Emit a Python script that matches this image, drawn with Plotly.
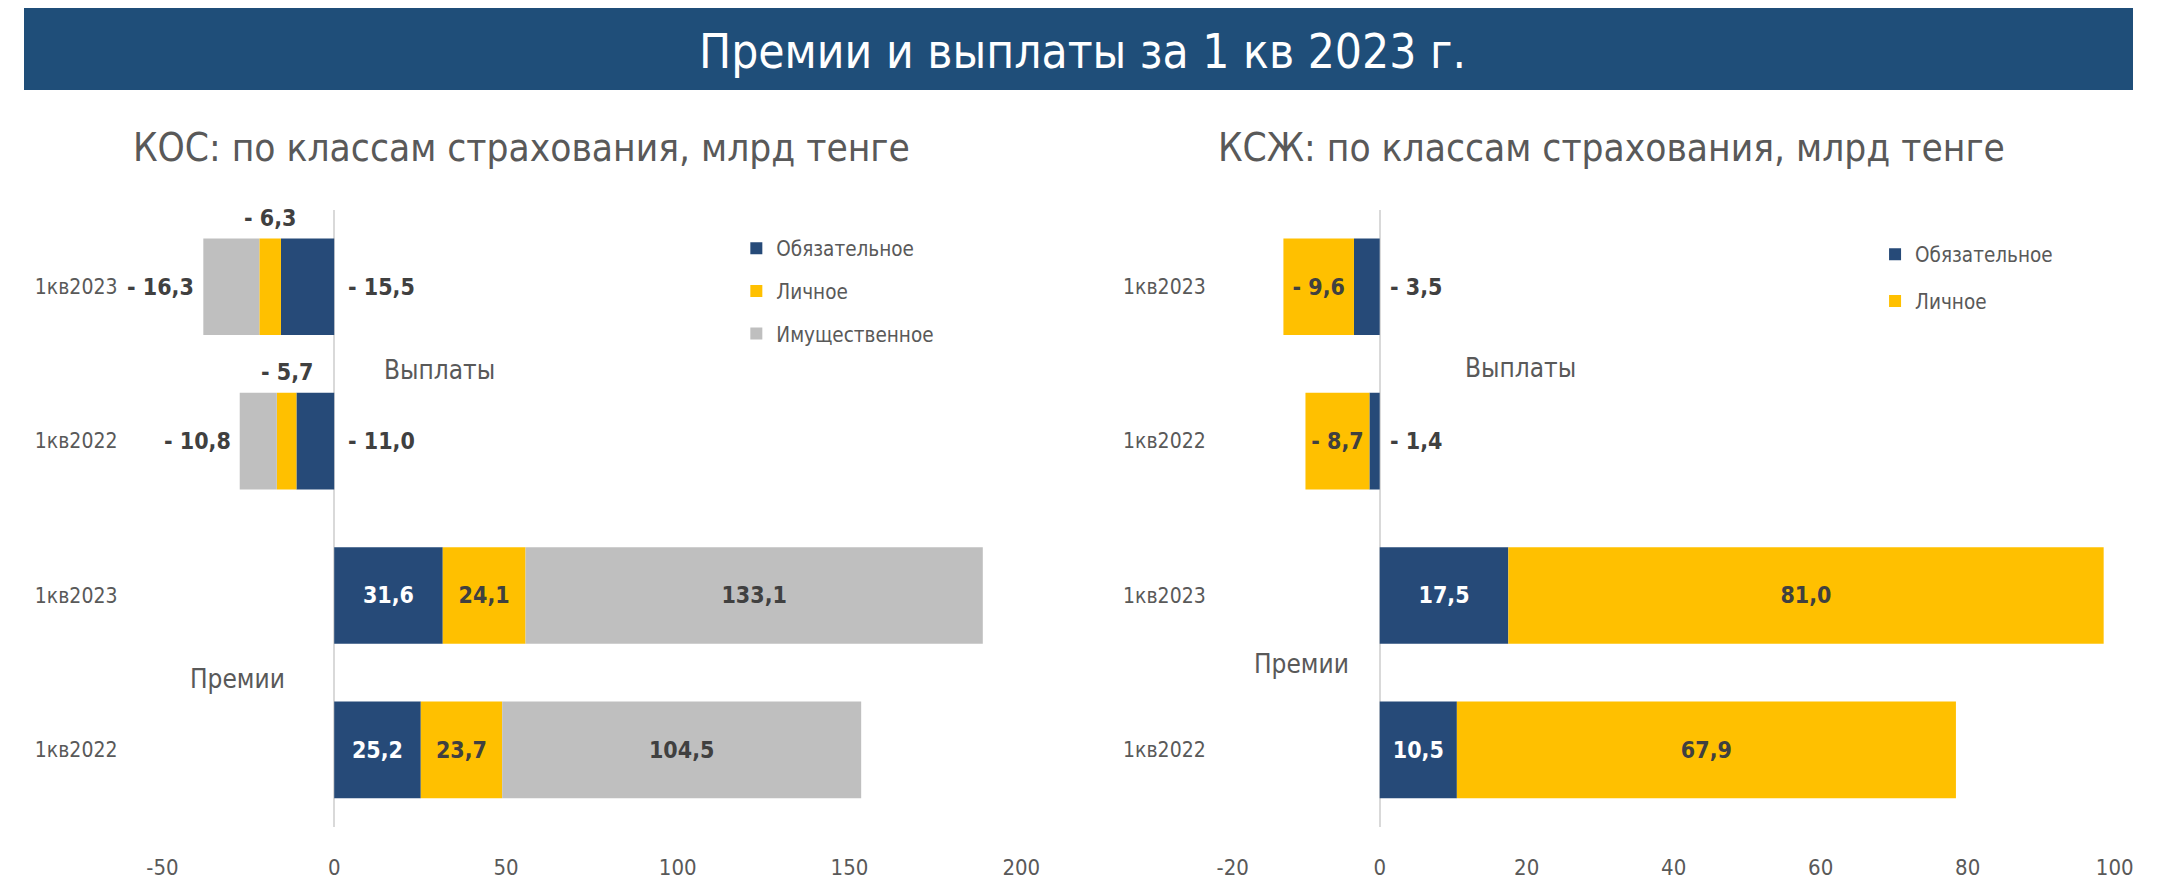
import plotly.graph_objects as go

# rows from top to bottom: payouts then premiums
rows = ['Выплаты 1кв2023', 'Выплаты 1кв2022', 'Премии 1кв2023', 'Премии 1кв2022']
periods = ['1кв2023', '1кв2022', '1кв2023', '1кв2022']

# КОС, млрд тенге
kos_mandatory = [-15.5, -11.0, 31.6, 25.2]
kos_personal = [-6.3, -5.7, 24.1, 23.7]
kos_property = [-16.3, -10.8, 133.1, 104.5]

# КСЖ, млрд тенге
ksj_mandatory = [-3.5, -1.4, 17.5, 10.5]
ksj_personal = [-9.6, -8.7, 81.0, 67.9]

kos_ticks = [-50, 0, 50, 100, 150, 200]
ksj_ticks = [-20, 0, 20, 40, 60, 80, 100]

FONT = ("Noto Sans Condensed, Noto Sans ExtraCondensed, DejaVu Sans Condensed, "
        "Liberation Sans Narrow, Roboto Condensed, Roboto, sans-serif")
BLUE = '#264a78'
YELLOW = '#ffc000'
GRAY = '#bfbfbf'
TEXT = '#595959'
DARK = '#404040'

W, H = 2144, 872


# positions below are measured on the final screenshot, these map them to paper coords
def px(X):
    return (X - 27.5) / 0.977 / W


def py(Y):
    return 1 - (Y - 6.6) / 0.9926 / H


def fmt(v):
    s = f"{abs(v):.1f}".replace('.', ',')
    return '- ' + s if v < 0 else s


def bar(name, vals, color, txtcolor, xa, ya, legend, inside_neg=False):
    txt = [fmt(v) if (v > 0 or inside_neg) else '' for v in vals]
    return go.Bar(
        name=name, y=rows, x=vals, orientation='h',
        marker=dict(color=color, line=dict(width=0)),
        text=txt, textposition='inside', insidetextanchor='middle',
        textangle=0, constraintext='none',
        textfont=dict(family=FONT, size=23, color=txtcolor, weight='bold'),
        xaxis=xa, yaxis=ya, legend=legend, legendgroup=legend + name,
        hoverinfo='skip',
    )


fig = go.Figure()
fig.add_trace(bar('Обязательное', kos_mandatory, BLUE, 'white', 'x', 'y', 'legend'))
fig.add_trace(bar('Личное', kos_personal, YELLOW, DARK, 'x', 'y', 'legend'))
fig.add_trace(bar('Имущественное', kos_property, GRAY, DARK, 'x', 'y', 'legend'))
fig.add_trace(bar('Обязательное', ksj_mandatory, BLUE, 'white', 'x2', 'y2', 'legend2'))
fig.add_trace(bar('Личное', ksj_personal, YELLOW, DARK, 'x2', 'y2', 'legend2', inside_neg=True))

ann = []
lab = dict(family=FONT, size=23, color=DARK, weight='bold')
# outside labels for payouts
for i, r in enumerate(rows):
    m, p, q = kos_mandatory[i], kos_personal[i], kos_property[i]
    if m < 0:
        ann.append(dict(xref='x', yref='y', x=0, y=r, text=fmt(m), xanchor='left', yanchor='middle',
                        xshift=12, showarrow=False, font=lab))
        ann.append(dict(xref='x', yref='y', x=m + p / 2, y=r, text=fmt(p), xanchor='center',
                        yanchor='middle', yshift=69, showarrow=False, font=lab))
        ann.append(dict(xref='x', yref='y', x=m + p + q, y=r, text=fmt(q), xanchor='right',
                        yanchor='middle', xshift=-7, showarrow=False, font=lab))
    m2 = ksj_mandatory[i]
    if m2 < 0:
        ann.append(dict(xref='x2', yref='y2', x=0, y=r, text=fmt(m2), xanchor='left', yanchor='middle',
                        xshift=8, showarrow=False, font=lab))


def note(X, Y, text, size, color=TEXT):
    return dict(xref='paper', yref='paper', x=px(X), y=py(Y), text=text, xanchor='center',
                yanchor='middle', showarrow=False, font=dict(family=FONT, size=size, color=color))


ann += [
    note(440, 370, 'Выплаты', 26),
    note(240, 680, 'Премии', 26),
    note(1514, 368, 'Выплаты', 26),
    note(1296, 665, 'Премии', 26),
    note(1079, 50, 'Премии и выплаты за 1 кв 2023 г.', 47.5, 'white'),
    note(522, 147, 'КОС: по классам страхования, млрд тенге', 38.5),
    note(1604, 147, 'КСЖ: по классам страхования, млрд тенге', 38.5),
]

xcommon = dict(showgrid=False, zeroline=True, zerolinecolor='#d9d9d9', zerolinewidth=2,
               showline=False, ticks='', tickfont=dict(family=FONT, size=22, color=TEXT),
               ticklabelstandoff=25, fixedrange=True)
ycommon = dict(type='category', categoryarray=rows, autorange='reversed', tickvals=rows, ticktext=periods,
               showgrid=False, showline=False, ticks='', zeroline=False,
               tickfont=dict(family=FONT, size=21, color=TEXT))
ydom = [py(829), py(209)]

legend_style = dict(font=dict(family=FONT, size=20.5, color=TEXT), bgcolor='rgba(0,0,0,0)',
                    xanchor='left', yanchor='top', traceorder='grouped')

fig.update_layout(
    width=W, height=H,
    margin=dict(l=0, r=0, t=0, b=0),
    paper_bgcolor='white', plot_bgcolor='white',
    barmode='relative', bargap=0.374,
    font=dict(family=FONT, color=TEXT),
    xaxis=dict(domain=[px(165), px(1018)], range=[-50, 200], tickvals=kos_ticks,
               ticktext=[str(t) for t in kos_ticks], anchor='y', **xcommon),
    yaxis=dict(domain=ydom, anchor='x', ticklabelstandoff=44, **ycommon),
    xaxis2=dict(domain=[px(1228), px(2104)], range=[-20, 100], tickvals=ksj_ticks,
                ticktext=[str(t) for t in ksj_ticks], anchor='y2', **xcommon),
    yaxis2=dict(domain=ydom, anchor='x2', ticklabelstandoff=26, **ycommon),
    legend=dict(x=px(735), y=py(228), tracegroupgap=13, **legend_style),
    legend2=dict(x=px(1866), y=py(234), tracegroupgap=17, **legend_style),
    showlegend=True,
    shapes=[dict(type='rect', xref='paper', yref='paper', x0=0, x1=1, y0=py(89), y1=1,
                 fillcolor='#1f4e79', line=dict(width=0), layer='below')],
    annotations=ann,
)

fig.write_html("out.html")
